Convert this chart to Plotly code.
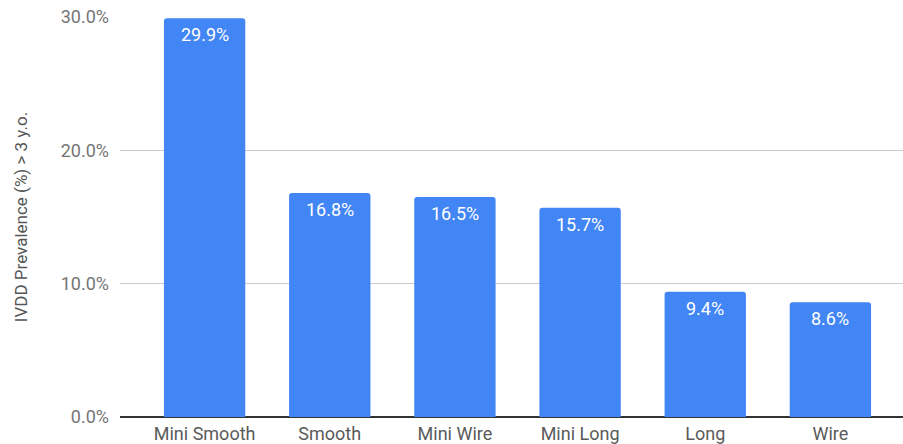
import plotly.graph_objects as go

# Coat types and IVDD prevalence in dogs older than 3 years (%)
categories = ["Mini Smooth", "Smooth", "Mini Wire", "Mini Long", "Long", "Wire"]
prevalence = [29.9, 16.8, 16.5, 15.7, 9.4, 8.6]
y_ticks = [0, 10, 20, 30]
y_tick_labels = ["0.0%", "10.0%", "20.0%", "30.0%"]

BAR_COLOR = "#4285F4"
FONT = "Roboto"

fig = go.Figure(
    go.Bar(
        x=list(range(len(categories))),
        y=prevalence,
        width=0.65,
        marker=dict(color=BAR_COLOR, cornerradius=3, line=dict(width=0)),
        hoverinfo="skip",
    )
)

# Value labels sitting just inside the top of each bar
for i, v in enumerate(prevalence):
    fig.add_annotation(
        x=i, y=v, text=f"{v:.1f}%", showarrow=False,
        yanchor="top", yshift=-4,
        font=dict(family=FONT, size=18, color="white"),
    )

fig.update_layout(
    width=903, height=444,
    margin=dict(l=120, r=0, t=17, b=27),
    paper_bgcolor="white", plot_bgcolor="white",
    font=dict(family=FONT),
    showlegend=False,
    xaxis=dict(
        tickmode="array",
        tickvals=list(range(len(categories))),
        ticktext=categories,
        range=[-0.676, 5.58],
        showgrid=False, zeroline=False,
        showline=False, ticks="", ticklabelstandoff=4,
        tickfont=dict(family=FONT, size=18, color="#5a5a5a"),
    ),
    yaxis=dict(
        range=[0, 30],
        tickmode="array", tickvals=y_ticks, ticktext=y_tick_labels,
        showgrid=True, gridcolor="#cccccc", gridwidth=1,
        zeroline=True, zerolinecolor="#333333", zerolinewidth=1.5,
        showline=False, ticks="", ticklabelstandoff=10,
        tickfont=dict(family=FONT, size=18, color="#757575"),
        title=dict(text="IVDD Prevalence (%) > 3 y.o.",
                   font=dict(family=FONT, size=17, color="#555555"),
                   standoff=28),
    ),
)

fig.write_html("out.html")
